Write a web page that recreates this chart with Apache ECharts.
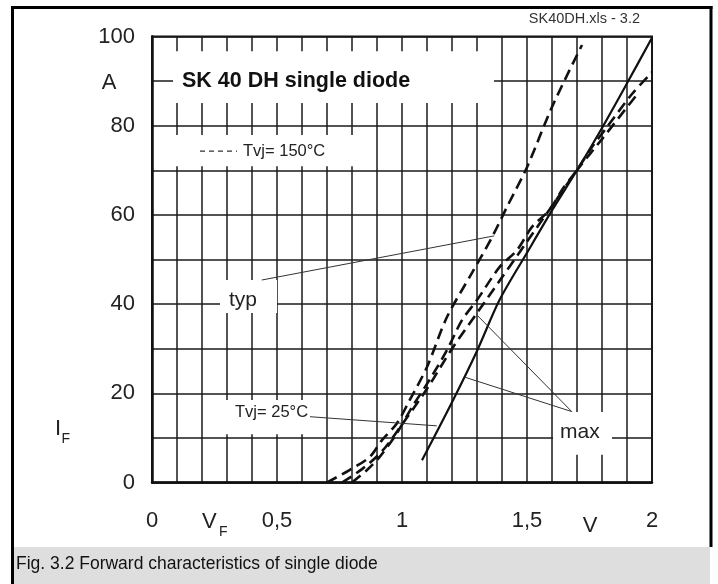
<!DOCTYPE html>
<html><head><meta charset="utf-8">
<script src="https://cdn.jsdelivr.net/npm/echarts/dist/echarts.min.js"></script>
<style>html,body{margin:0;padding:0;background:#fff;}#c{width:718px;height:584px;}</style>
</head><body><div id="c"></div>
<script>
// ---- data ----
const xTickValues = [0, 0.5, 1, 1.5, 2];
const xTickLabels = ['0', '0,5', '1', '1,5', '2'];
const yTickValues = [0, 20, 40, 60, 80, 100];
const yTickLabels = ['0', '20', '40', '60', '80', '100'];

// Tvj = 150 °C, typ (dashed, leftmost at top)
const typ150V = [0.70, 0.79, 0.87, 0.92, 0.98, 1.03, 1.10, 1.18, 1.28, 1.36, 1.42, 1.50, 1.60, 1.72];
const typ150I = [0, 2.8, 5.7, 9.5, 13.3, 18.4, 25.9, 37.1, 47, 55, 61.8, 70.7, 84.2, 98.1];
// Tvj = 150 °C, max (dashed)
const max150V = [0.80, 0.86, 0.91, 0.98, 1.04, 1.11, 1.18, 1.24, 1.30, 1.39, 1.46, 1.52, 1.59, 1.64, 1.70, 1.76, 1.82, 1.92, 2.00];
const max150I = [0, 2.8, 5.7, 11.1, 16.9, 23, 29.7, 36.4, 40.9, 48.3, 52.1, 57.3, 61.1, 65.6, 70.1, 75.2, 79.7, 87.1, 92];
// Tvj = 25 °C, typ (dashed)
const typ25V = [0.76, 0.84, 0.92, 1.00, 1.10, 1.20, 1.30, 1.40, 1.50, 1.60, 1.70, 1.80, 1.94];
const typ25I = [0, 3, 7, 13, 21, 30, 38, 46, 54, 62, 70, 77, 87];
// Tvj = 25 °C, max (solid)
const max25V = [1.08, 1.20, 1.30, 1.39, 1.50, 1.60, 1.70, 1.80, 1.90, 2.00];
const max25I = [5, 18, 29.5, 40.9, 51.5, 61, 70, 79.5, 89.5, 99.7];

const zip = (a, b) => a.map((v, i) => [v, b[i]]);
const FONT = 'Liberation Sans, Arial, Helvetica, sans-serif';

const chart = echarts.init(document.getElementById('c'), null, {renderer: 'canvas'});

const dashed = {color: '#111', width: 2.6, type: [11, 6]};
const solid = {color: '#111', width: 2.2, type: 'solid'};

chart.setOption({
  animation: false,
  backgroundColor: '#fff',
  grid: {left: 152, top: 36.5, width: 500, height: 446, show: true, borderColor: '#111', borderWidth: 2, backgroundColor: 'transparent'},
  xAxis: {
    type: 'value', min: 0, max: 2, interval: 0.1,
    axisLine: {show: true, lineStyle: {color: '#111', width: 2.5}},
    axisTick: {show: false},
    splitLine: {show: true, lineStyle: {color: '#1a1a1a', width: 1.5}},
    axisLabel: {
      margin: 27, fontSize: 22, color: '#222', fontFamily: FONT,
      formatter: v => {
        const k = xTickValues.findIndex(t => Math.abs(t - v) < 1e-6);
        return k >= 0 ? xTickLabels[k] : '';
      }
    }
  },
  yAxis: {
    type: 'value', min: 0, max: 100, interval: 10,
    axisLine: {show: true, lineStyle: {color: '#111', width: 2.5}},
    axisTick: {show: false},
    splitLine: {show: true, lineStyle: {color: '#1a1a1a', width: 1.5}},
    axisLabel: {
      margin: 17, fontSize: 22, color: '#222', fontFamily: FONT, padding: [4, 0, 0, 0],
      formatter: v => {
        const k = yTickValues.findIndex(t => Math.abs(t - v) < 1e-6);
        return k >= 0 ? yTickLabels[k] : '';
      }
    }
  },
  series: [
    {type: 'line', data: zip(typ150V, typ150I), showSymbol: false, smooth: 0.3, lineStyle: dashed, z: 5},
    {type: 'line', data: zip(max150V, max150I), showSymbol: false, smooth: 0.3, lineStyle: dashed, z: 5},
    {type: 'line', data: zip(typ25V, typ25I), showSymbol: false, smooth: 0.3, lineStyle: dashed, z: 5},
    {type: 'line', data: zip(max25V, max25I), showSymbol: false, smooth: 0.3, lineStyle: solid, z: 5}
  ]
});

// ---- annotations (placed in data coordinates) ----
const P = (v, i) => chart.convertToPixel({gridIndex: 0}, [v, i]);
function box(v0, i0, v1, i1) {
  const a = P(v0, i0), b = P(v1, i1);
  return {type: 'rect', z: 3, shape: {x: Math.min(a[0], b[0]), y: Math.min(a[1], b[1]), width: Math.abs(b[0] - a[0]), height: Math.abs(b[1] - a[1])}, style: {fill: '#fff'}, silent: true};
}
function txt(v, i, text, opts) {
  const p = P(v, i);
  return {type: 'text', z: 10, x: p[0], y: p[1], style: Object.assign({text: text, fill: '#222', font: '20px ' + FONT, textVerticalAlign: 'middle', textAlign: 'left'}, opts || {})};
}
function seg(v0, i0, v1, i1, w, dash) {
  const a = P(v0, i0), b = P(v1, i1);
  return {type: 'line', z: 9, shape: {x1: a[0], y1: a[1], x2: b[0], y2: b[1]}, style: {stroke: '#333', lineWidth: w || 1, lineDash: dash || null}, silent: true};
}

const g = [
  // frame & caption band
  {type: 'rect', z: 1, shape: {x: 14, y: 547, width: 696, height: 37}, style: {fill: '#dedede'}},
  {type: 'line', z: 20, shape: {x1: 12.5, y1: 6, x2: 12.5, y2: 584}, style: {stroke: '#000', lineWidth: 3}},
  {type: 'line', z: 20, shape: {x1: 11, y1: 7.5, x2: 712.5, y2: 7.5}, style: {stroke: '#000', lineWidth: 3}},
  {type: 'line', z: 20, shape: {x1: 711, y1: 6, x2: 711, y2: 547}, style: {stroke: '#000', lineWidth: 3}},
  {type: 'text', z: 20, x: 16, y: 564, style: {text: 'Fig. 3.2 Forward characteristics of single diode', font: '17.5px ' + FONT, fill: '#111', textVerticalAlign: 'middle'}},
  // white label boxes
  box(0.084, 85.1, 1.368, 96.7),
  box(0.072, 70.9, 0.832, 77.9),
  box(0.272, 38.0, 0.50, 45.4),
  box(0.292, 10.8, 0.652, 18.5),
  box(1.604, 6.2, 1.84, 15.8),
  // texts
  txt(1.952, 103.9, 'SK40DH.xls - 3.2', {font: '14.5px ' + FONT, textAlign: 'right', fill: '#333'}),
  txt(0.12, 89.9, 'SK 40 DH single diode', {font: 'bold 21.5px ' + FONT, fill: '#111'}),
  seg(0.192, 74.3, 0.34, 74.3, 1.2, [5, 4]),
  txt(0.364, 74.3, 'Tvj= 150°C', {font: '16.5px ' + FONT}),
  txt(0.364, 40.9, 'typ', {font: '21px ' + FONT, textAlign: 'center'}),
  txt(0.332, 15.6, 'Tvj= 25°C', {font: '16.5px ' + FONT}),
  txt(1.632, 11.3, 'max', {font: '21px ' + FONT}),
  // leaders
  seg(0.439, 45.4, 1.369, 55.3, 1),
  seg(0.632, 14.75, 1.139, 12.7, 1),
  seg(1.679, 15.9, 1.299, 37.6, 1),
  seg(1.679, 15.9, 1.252, 23.6, 1),
  // axis unit labels
  txt(-0.172, 89.6, 'A', {font: '22px ' + FONT, textAlign: 'center'}),
  txt(-0.388, 12.0, 'I', {font: '22px ' + FONT}),
  txt(-0.362, 9.8, 'F', {font: '14px ' + FONT}),
  txt(0.200, -8.9, 'V', {font: '22px ' + FONT}),
  txt(0.268, -11.2, 'F', {font: '14px ' + FONT}),
  txt(1.752, -9.8, 'V', {font: '22px ' + FONT, textAlign: 'center'})
];
chart.setOption({graphic: g});
</script>
</body></html>
